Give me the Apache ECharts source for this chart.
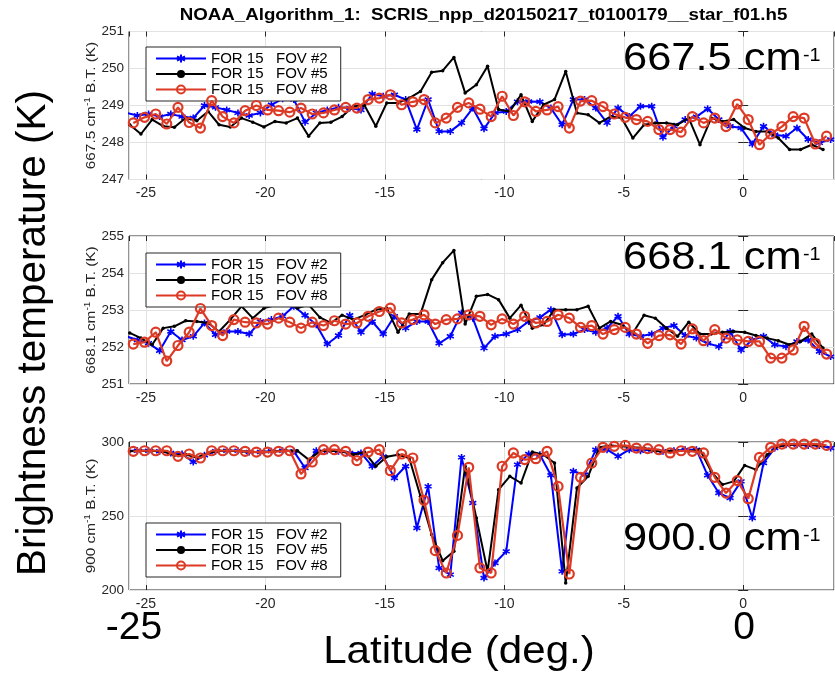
<!DOCTYPE html>
<html><head><meta charset="utf-8">
<script src="https://cdn.jsdelivr.net/npm/echarts@6/dist/echarts.min.js"></script>
<style>html,body{margin:0;padding:0;background:#fff}#c{width:835px;height:677px}</style>
</head><body><div id="c"></div>
<script>
// ---------------- data ----------------
const TITLE = 'NOAA_Algorithm_1:  SCRIS_npp_d20150217_t0100179__star_f01.h5';
const SERIES_NAMES = ['FOR 15   FOV #2', 'FOR 15   FOV #5', 'FOR 15   FOV #8'];
const PANEL_LABELS = ['667.5', '668.1', '900.0'];
const AXIS_NAMES = ['667.5', '668.1', '900'];
const Y_MIN = [247, 251, 200];
const Y_MAX = [251, 255, 300];
const Y_INTERVAL = [1, 1, 50];
const X_MIN = -25.71, X_MAX = 3.8;

const latFov2 = [-25.83,-25.36,-24.89,-24.43,-23.96,-23.49,-23.02,-22.55,-22.09,-21.62,-21.15,-20.68,-20.21,-19.75,-19.28,-18.81,-18.34,-17.87,-17.41,-16.94,-16.47,-16.00,-15.53,-15.07,-14.60,-14.13,-13.66,-13.19,-12.73,-12.26,-11.79,-11.32,-10.85,-10.39,-9.92,-9.45,-8.98,-8.51,-8.05,-7.58,-7.11,-6.64,-6.17,-5.70,-5.24,-4.77,-4.30,-3.83,-3.36,-2.90,-2.43,-1.96,-1.49,-1.02,-0.55,-0.09,0.38,0.85,1.32,1.79,2.25,2.72,3.19,3.66];
const latFov5 = [-25.68,-25.21,-24.74,-24.28,-23.81,-23.34,-22.87,-22.40,-21.94,-21.47,-21.00,-20.53,-20.06,-19.60,-19.13,-18.66,-18.19,-17.72,-17.26,-16.79,-16.32,-15.85,-15.38,-14.92,-14.45,-13.98,-13.51,-13.04,-12.58,-12.11,-11.64,-11.17,-10.70,-10.24,-9.77,-9.30,-8.83,-8.36,-7.90,-7.43,-6.96,-6.49,-6.02,-5.55,-5.09,-4.62,-4.15,-3.68,-3.21,-2.75,-2.28,-1.81,-1.34,-0.87,-0.40,0.06,0.53,1.00,1.47,1.94,2.40,2.87,3.34];
const latFov8 = [-25.53,-25.06,-24.59,-24.13,-23.66,-23.19,-22.72,-22.25,-21.79,-21.32,-20.85,-20.38,-19.91,-19.45,-18.98,-18.51,-18.04,-17.57,-17.11,-16.64,-16.17,-15.70,-15.23,-14.77,-14.30,-13.83,-13.36,-12.89,-12.43,-11.96,-11.49,-11.02,-10.55,-10.09,-9.62,-9.15,-8.68,-8.21,-7.75,-7.28,-6.81,-6.34,-5.87,-5.40,-4.94,-4.47,-4.00,-3.53,-3.06,-2.60,-2.13,-1.66,-1.19,-0.72,-0.25,0.21,0.68,1.15,1.62,2.09,2.55,3.02,3.49];

// 667.5 cm-1
const bt667Fov2 = [248.80,248.73,248.77,248.70,248.77,248.70,248.66,249.00,248.95,248.88,248.80,248.73,248.80,249.02,249.18,249.16,248.55,248.80,248.88,248.95,248.93,248.88,249.31,249.25,249.29,249.16,248.35,249.16,248.30,248.30,248.53,248.93,248.37,248.80,248.84,249.10,249.11,249.10,248.93,248.48,249.16,249.16,248.93,248.53,248.93,248.70,248.98,248.98,248.14,248.44,248.62,248.70,248.91,248.62,248.44,248.39,247.96,248.44,248.21,248.17,248.39,248.08,247.99,248.08];
const bt667Fov5 = [248.48,248.23,248.62,248.44,248.41,248.66,248.59,248.84,248.48,248.42,248.66,248.55,248.42,248.57,248.53,248.66,248.17,248.53,248.55,248.70,248.98,249.00,248.44,249.07,249.07,249.20,249.38,249.90,249.94,250.30,249.34,249.56,250.06,248.89,248.84,249.29,248.57,249.02,249.16,249.92,248.80,248.75,248.53,248.70,248.66,248.12,248.48,248.53,248.53,248.48,248.66,247.94,248.66,248.57,248.62,248.39,248.30,248.30,248.12,247.81,247.81,247.94,247.81];
const bt667Fov8 = [248.53,248.68,248.77,248.50,248.95,248.54,248.39,249.13,248.70,248.53,248.86,249.00,248.88,248.86,248.82,248.93,248.77,248.80,248.88,248.95,248.93,249.16,249.20,249.29,249.02,249.10,249.16,248.53,248.66,248.95,249.07,248.90,248.70,249.25,248.73,249.10,248.84,248.88,248.97,248.39,249.12,249.13,248.97,248.77,248.68,248.62,248.57,248.35,248.35,248.28,248.70,248.53,248.66,248.43,249.04,248.62,247.94,248.23,248.43,248.70,248.66,247.96,248.17];

// 668.1 cm-1
const bt668Fov2 = [252.29,252.19,252.10,251.90,252.42,252.19,252.29,252.65,252.33,252.42,252.42,252.35,252.69,252.74,252.83,253.10,252.86,252.60,252.08,252.31,252.86,252.40,252.69,252.35,252.83,252.51,252.69,252.69,252.10,252.29,252.92,252.78,251.97,252.29,252.35,252.47,252.69,252.80,253.01,252.33,252.35,252.47,252.40,252.51,252.83,252.35,252.29,252.35,252.51,252.58,252.31,252.24,252.10,252.01,252.42,251.92,252.19,252.29,252.06,252.01,252.15,252.19,251.88,251.74];
const bt668Fov5 = [252.38,252.24,252.06,252.51,252.56,252.71,252.69,252.65,252.42,252.74,253.10,252.78,253.05,253.13,253.24,253.05,253.14,252.80,252.65,252.86,252.74,252.86,253.01,253.05,252.40,252.89,252.89,253.82,254.28,254.61,252.62,253.37,253.42,253.28,252.78,253.13,252.51,252.60,253.01,253.01,253.01,253.10,252.51,252.69,252.60,252.38,252.86,252.78,252.51,252.29,252.67,252.35,252.35,252.40,252.42,252.40,252.31,252.24,252.17,252.06,252.15,252.35,251.97];
const bt668Fov8 = [252.08,252.13,252.40,251.62,252.04,252.40,253.04,252.58,252.31,252.74,252.67,252.65,252.62,252.78,252.67,252.51,252.67,252.58,252.71,252.62,252.65,252.83,252.96,253.05,252.65,252.74,252.87,252.62,252.74,252.76,252.87,252.83,252.60,252.76,252.62,252.83,252.65,252.69,252.87,252.78,252.53,252.58,252.35,252.47,252.53,252.35,252.10,252.31,252.33,252.08,252.49,252.17,252.47,252.24,252.19,252.15,252.15,251.70,251.70,251.92,252.56,252.10,251.81];

// 900 cm-1
const bt900Fov2 = [294.1,294.1,294.1,293.7,292.6,291.9,286.5,291.0,293.7,294.1,294.1,293.2,293.2,293.7,294.1,293.7,282.4,294.1,294.1,293.7,292.6,292.6,283.6,290.3,275.7,283.6,241.9,270.0,214.9,210.4,289.6,258.8,208.1,218.2,226.1,284.7,291.9,291.4,277.5,212.6,280.2,277.9,294.8,294.8,290.3,294.8,294.1,294.8,293.7,294.1,294.8,294.8,277.5,265.5,262.2,273.4,248.6,285.8,295.9,298.2,298.2,297.7,297.7,295.9];
const bt900Fov5 = [293.7,294.1,294.1,293.7,291.0,291.5,289.5,292.5,294.1,294.1,293.7,293.2,293.2,293.7,294.1,294.1,288.1,293.7,294.1,293.7,291.4,293.2,283.6,290.0,291.4,289.2,263.3,237.4,219.8,226.1,283.6,248.6,212.6,267.8,276.8,272.3,293.2,291.4,285.8,204.7,268.9,276.8,296.4,297.7,297.1,296.4,295.9,293.7,293.7,294.1,293.7,294.8,280.2,271.2,273.4,284.2,281.3,291.4,297.1,298.2,298.2,298.2,297.1];
const bt900Fov8 = [293.7,294.1,294.1,294.1,290.3,291.9,289.2,294.1,294.1,294.1,293.7,293.2,293.2,293.7,294.1,278.4,286.5,294.8,294.8,293.7,287.4,293.2,294.8,280.6,291.9,289.2,260.6,226.6,211.5,236.9,282.9,214.9,211.5,283.6,292.6,288.1,288.7,293.7,270.0,210.8,276.1,285.8,296.4,297.1,297.7,295.9,295.5,294.8,292.6,294.1,293.7,292.6,276.1,265.5,273.9,261.7,289.6,296.4,298.6,298.6,298.6,298.6,297.7];

const PANELS = [
  [bt667Fov2, bt667Fov5, bt667Fov8],
  [bt668Fov2, bt668Fov5, bt668Fov8],
  [bt900Fov2, bt900Fov5, bt900Fov8]
];
const LATS = [latFov2, latFov5, latFov8];

// ---------------- style ----------------
const FONT = '"Liberation Sans", Arial, Helvetica, sans-serif';
const INK = '#262626';
const GRIDLINE = '#e2e2e2';
const BLUE = '#0000ff', BLACK = '#000000', RED = '#dd3a25';
const GRID_TOP = [31.5, 236, 442];
const GRID_H = 148;
const LEGEND_TOP = [47, 253, 523];
const ASTERISK = 'path://M5,0L5,10M0.67,2.5L9.33,7.5M0.67,7.5L9.33,2.5';

const zip = (xs, ys) => ys.map((v, i) => [xs[i], v]);

const grid = GRID_TOP.map(t => ({
  left: 129, right: 1, top: t, height: GRID_H, show: true,
  backgroundColor: '#fff', borderColor: INK, borderWidth: 1
}));

const xAxis = [];
const yAxis = [];
GRID_TOP.forEach((t, k) => {
  xAxis.push({
    type: 'value', gridIndex: k, min: X_MIN, max: X_MAX, splitNumber: 6,
    axisLine: { show: false },
    axisTick: { show: true, inside: true, length: 5, lineStyle: { color: INK } },
    splitLine: { show: true, lineStyle: { color: GRIDLINE, width: 1 } },
    axisLabel: { show: true, color: INK, fontSize: 14, fontFamily: FONT, margin: 7,
                 showMinLabel: false, showMaxLabel: false }
  });
  yAxis.push({
    type: 'value', gridIndex: k, min: Y_MIN[k], max: Y_MAX[k], interval: Y_INTERVAL[k],
    axisLine: { show: false },
    axisTick: { show: true, inside: true, length: 5, lineStyle: { color: INK } },
    splitLine: { show: true, lineStyle: { color: GRIDLINE, width: 1 } },
    axisLabel: { color: INK, fontSize: 13.5, fontFamily: FONT, margin: 5 }
  });
});
// mirrored top / right ticks (MATLAB box)
GRID_TOP.forEach((t, k) => {
  xAxis.push({
    type: 'value', gridIndex: k, min: X_MIN, max: X_MAX, splitNumber: 6, position: 'top',
    axisLine: { show: false }, splitLine: { show: false }, axisLabel: { show: false },
    axisTick: { show: true, inside: true, length: 5, lineStyle: { color: INK } }
  });
  yAxis.push({
    type: 'value', gridIndex: k, min: Y_MIN[k], max: Y_MAX[k], interval: Y_INTERVAL[k], position: 'right',
    axisLine: { show: false }, splitLine: { show: false }, axisLabel: { show: false },
    axisTick: { show: true, inside: true, length: 5, lineStyle: { color: INK } }
  });
});

const series = [];
PANELS.forEach((vals, k) => {
  series.push({
    name: SERIES_NAMES[0], type: 'line', xAxisIndex: k, yAxisIndex: k,
    data: zip(LATS[0], vals[0]), symbol: ASTERISK, symbolSize: 7, showSymbol: true,
    color: BLUE, lineStyle: { color: BLUE, width: 2 },
    itemStyle: { color: BLUE, borderColor: BLUE, borderWidth: 1.6 }, z: 2
  });
  series.push({
    name: SERIES_NAMES[1], type: 'line', xAxisIndex: k, yAxisIndex: k,
    data: zip(LATS[1], vals[1]), symbol: 'circle', symbolSize: 3.5, showSymbol: true,
    color: BLACK, lineStyle: { color: BLACK, width: 2 },
    itemStyle: { color: BLACK }, z: 3
  });
  series.push({
    name: SERIES_NAMES[2], type: 'line', xAxisIndex: k, yAxisIndex: k,
    data: zip(LATS[2], vals[2]), symbol: 'circle', symbolSize: 9, showSymbol: true,
    color: RED, lineStyle: { color: RED, width: 2.2 },
    itemStyle: { color: 'rgba(255,255,255,0)', borderColor: RED, borderWidth: 2.2 }, z: 4
  });
});

const legend = LEGEND_TOP.map(t => ({
  data: SERIES_NAMES, left: 146, top: t, orient: 'vertical',
  backgroundColor: '#fff', borderColor: INK, borderWidth: 1,
  padding: [4, 13, 4, 9], itemWidth: 50, itemHeight: 10, itemGap: 0.5,
  textStyle: { color: '#000', fontSize: 15, fontFamily: FONT, lineHeight: 14 },
  selectedMode: false
}));

const graphic = [];
graphic.push({ type: 'text', x: 483.5, y: 16, scaleX: 1.17, z: 100,
  style: { text: TITLE, fill: '#000', fontSize: 16, fontWeight: 'bold', fontFamily: FONT,
           align: 'center', verticalAlign: 'middle' } });
// panel wavenumber annotations
const ANN_Y = [59, 258.5, 539];
PANEL_LABELS.forEach((lab, k) => {
  graphic.push({ type: 'text', x: 623, y: ANN_Y[k], scaleX: 1.1, z: 100,
    style: { text: lab + ' cm', fill: '#000', fontSize: 39.5, fontFamily: FONT,
             align: 'left', verticalAlign: 'middle' } });
  graphic.push({ type: 'text', x: 803, y: ANN_Y[k] - 3, scaleX: 1.1, z: 100,
    style: { text: '-1', fill: '#000', fontSize: 18, fontFamily: FONT,
             align: 'left', verticalAlign: 'middle' } });
});
// per-panel small y labels
AXIS_NAMES.forEach((lab, k) => {
  graphic.push({ type: 'text', x: 91, y: GRID_TOP[k] + GRID_H / 2, rotation: Math.PI / 2,
    scaleX: 1.18, z: 100,
    style: { text: '{a|' + lab + ' cm}{s|-1}{a| B.T. (K)}', fill: INK, fontFamily: FONT,
      align: 'center', verticalAlign: 'middle',
      rich: { a: { fontSize: 13, lineHeight: 15, fontFamily: FONT, fill: INK, verticalAlign: 'middle' },
              s: { fontSize: 8.5, lineHeight: 12, fontFamily: FONT, fill: INK, verticalAlign: 'top' } } } });
});
// big overlay labels
graphic.push({ type: 'text', x: 34, y: 333, rotation: Math.PI / 2, z: 100,
  style: { text: 'Brightness temperature (K)', fill: '#000', fontSize: 40.5, fontFamily: FONT,
           align: 'center', verticalAlign: 'middle' } });
graphic.push({ type: 'text', x: 459, y: 652, scaleX: 1.08, z: 100,
  style: { text: 'Latitude (deg.)', fill: '#000', fontSize: 39, fontFamily: FONT,
           align: 'center', verticalAlign: 'middle', backgroundColor: '#fff' } });
graphic.push({ type: 'text', x: 134, y: 628, z: 100,
  style: { text: '-25', fill: '#000', fontSize: 39, fontFamily: FONT,
           align: 'center', verticalAlign: 'middle' } });
graphic.push({ type: 'text', x: 744, y: 628, z: 100,
  style: { text: '0', fill: '#000', fontSize: 39, fontFamily: FONT,
           align: 'center', verticalAlign: 'middle' } });

const chart = echarts.init(document.getElementById('c'), null, { renderer: 'canvas' });
chart.setOption({
  backgroundColor: '#fff', animation: false,
  grid, xAxis, yAxis, series, legend, graphic
});
</script></body></html>
